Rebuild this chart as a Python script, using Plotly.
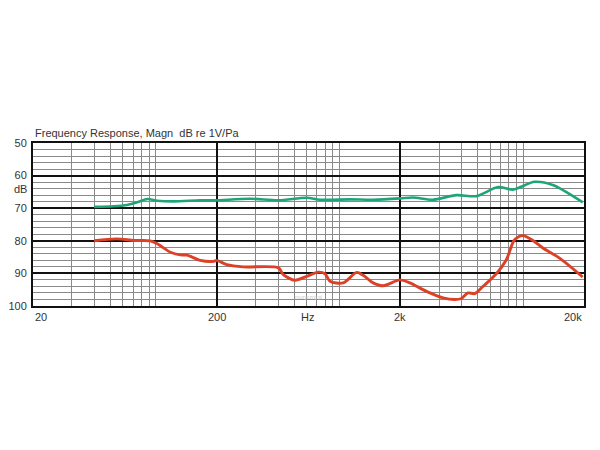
import numpy as np
import plotly.graph_objects as go

# ---- data ----
green_freq = [43, 55, 65, 74, 84, 95, 116, 163, 196, 304, 434, 618, 730, 1063,
              1422, 1988, 2340, 3007, 4038, 5190, 6808, 8208, 10770, 13520, 19680]
green_db = [69.6, 69.4, 69.0, 68.2, 67.2, 67.7, 67.9, 67.6, 67.6, 67.1, 67.6, 66.8,
            67.4, 67.3, 67.4, 67.0, 66.7, 67.4, 66.0, 66.3, 63.5, 64.3, 61.9, 62.9, 68.2]

red_freq = [43, 57, 71, 87, 95, 112, 127, 138, 163, 192, 200, 227, 280, 434, 461,
            534, 618, 715, 778, 828, 978, 1156, 1256, 1422, 1612, 1988, 2252, 2777,
            3418, 3954, 4302, 4666, 5082, 5636, 6666, 7555, 8375, 9291, 10540, 11940,
            14720, 19680]
red_db = [80.0, 79.4, 79.9, 80.0, 80.9, 83.5, 84.3, 84.4, 86.0, 86.3, 86.0, 87.3,
          88.0, 88.3, 90.4, 92.1, 90.9, 89.6, 90.1, 92.4, 92.9, 89.7, 90.6, 92.9,
          93.8, 92.0, 92.9, 95.5, 97.5, 98.0, 97.7, 96.0, 96.2, 94.0, 90.1, 85.8,
          79.7, 78.4, 79.9, 82.2, 85.3, 91.1]

decades = [20, 200, 2000]
major_x = [20, 200, 2000, 20000]
y_ticks = [50, 60, 70, 80, 90, 100]
x_labels = ["20", "200", "2k", "20k"]

# chart's own (compressed) minor grid positions
minor_x = [d * n ** 0.7 for d in decades for n in range(2, 10)]

fig = go.Figure()
fig.add_trace(go.Scatter(x=green_freq, y=green_db, mode="lines",
                         line=dict(color="#1fa37a", width=2.6, shape="spline", smoothing=0.8),
                         hoverinfo="skip"))
fig.add_trace(go.Scatter(x=red_freq, y=red_db, mode="lines",
                         line=dict(color="#dc4128", width=2.9, shape="spline", smoothing=0.8),
                         hoverinfo="skip"))

font = dict(family="Liberation Sans, Arial, sans-serif", size=11, color="#333333")

fig.update_layout(
    width=600, height=450,
    margin=dict(l=25, r=24, t=135, b=152, autoexpand=False),
    paper_bgcolor="white", plot_bgcolor="white",
    showlegend=False,
    font=font,
)
fig.update_xaxes(
    type="log", range=[np.log10(20), np.log10(20000)], automargin=False,
    tickvals=major_x, ticktext=[""] * 4, ticks="",
    showgrid=True, gridcolor="#111111", gridwidth=2,
    showline=True, linecolor="#111111", linewidth=2, mirror=True,
    minor=dict(tickvals=minor_x, showgrid=True, gridcolor="#8a8a8a", gridwidth=1, ticks=""),
    zeroline=False,
)
fig.update_yaxes(
    range=[100, 50], tickvals=y_ticks, ticks="", automargin=False,
    ticklabelstandoff=2,
    showgrid=True, gridcolor="#111111", gridwidth=2,
    showline=True, linecolor="#111111", linewidth=2, mirror=True,
    minor=dict(dtick=2, showgrid=True, gridcolor="#8a8a8a", gridwidth=1, ticks=""),
    zeroline=False, tickfont=font,
)

# x labels
anchors = ["left", "center", "center", "right"]
for v, t, a in zip(major_x, x_labels, anchors):
    fig.add_annotation(x=np.log10(v), y=-0.02, xref="x", yref="paper", text=t,
                       showarrow=False, xanchor=a, yanchor="top", font=font)
fig.add_annotation(x=np.log10(624), y=-0.02, xref="x", yref="paper", text="Hz",
                   showarrow=False, xanchor="center", yanchor="top", font=font)
fig.add_annotation(x=-0.008, y=64.2, xref="paper", yref="y", text="dB",
                   showarrow=False, xanchor="right", yanchor="middle", font=font)
fig.add_annotation(x=0, y=1.01, xref="paper", yref="paper",
                   text="Frequency Response, Magn&nbsp;&nbsp;dB re 1V/Pa",
                   showarrow=False, xanchor="left", yanchor="bottom", font=font)
fig.add_annotation(x=0.5, y=0.055, xref="paper", yref="paper", text="muzyczny.pl",
                   showarrow=False, font=dict(size=5, color="#cccccc"), yanchor="middle")

fig.write_html("out.html")
